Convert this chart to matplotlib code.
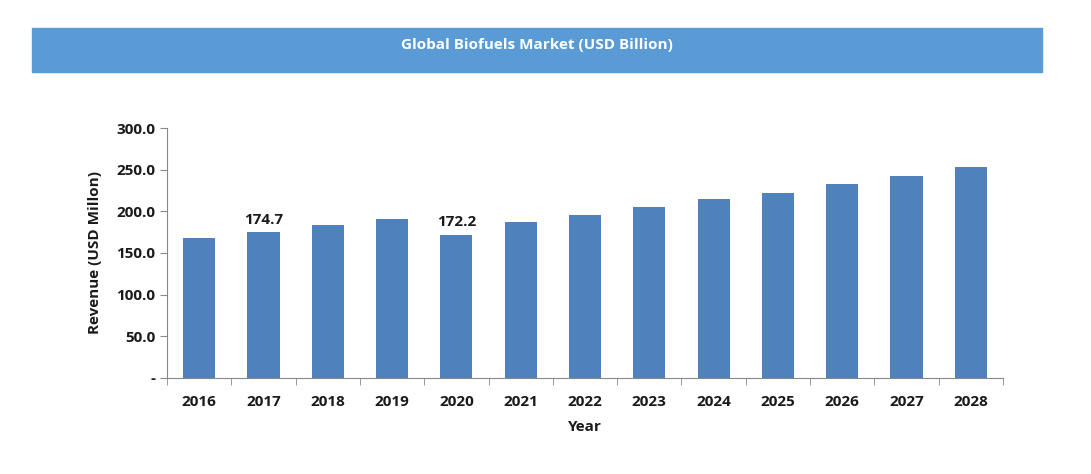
import matplotlib.pyplot as plt
from matplotlib.patches import Rectangle
from matplotlib.ticker import FixedLocator, FixedFormatter

# ----- Chart data ----- #
YEARS = ['2016', '2017', '2018', '2019', '2020', '2021', '2022', '2023',
         '2024', '2025', '2026', '2027', '2028']
REVENUE = [168.0, 174.7, 183.5, 190.5, 172.2, 187.0, 195.5, 205.0,
           214.5, 222.0, 232.5, 242.0, 253.0]
LABELLED = {'2017': '174.7', '2020': '172.2'}
Y_TICKS = [0, 50, 100, 150, 200, 250, 300]
Y_TICK_LABELS = ['-', '50.0', '100.0', '150.0', '200.0', '250.0', '300.0']

BAR_COLOR = '#4F81BD'
BAND_COLOR = '#5B9BD5'
TEXT_COLOR = '#1a1a1a'
plt.rcParams['font.family'] = 'Open Sans'

W, H, DPI = 1091, 474, 100
fig = plt.figure(figsize=(W / DPI, H / DPI), dpi=DPI)

# Title band
fig.patches.append(Rectangle((32 / W, 1 - 72 / H), 1010 / W, 44 / H,
                             transform=fig.transFigure, color=BAND_COLOR, zorder=0))
fig.text(537 / W, 1 - 45 / H, 'Global Biofuels Market (USD Billion)', color='white',
         fontsize=11, fontweight='bold', ha='center', va='center')

ax = fig.add_axes([167 / W, 1 - 378 / H, (1003 - 167) / W, 250 / H])
x = range(len(YEARS))
ax.bar(x, REVENUE, width=0.5, color=BAR_COLOR)
for i, (year, val) in enumerate(zip(YEARS, REVENUE)):
    if year in LABELLED:
        ax.text(i, val + 6, LABELLED[year], ha='center', va='bottom',
                fontsize=11, fontweight='bold', color=TEXT_COLOR)

ax.set_xlim(-0.5, len(YEARS) - 0.5)
ax.set_ylim(0, 300)
ax.yaxis.set_major_locator(FixedLocator(Y_TICKS))
ax.yaxis.set_major_formatter(FixedFormatter(Y_TICK_LABELS))
ax.set_xticks(list(x))
ax.set_xticks([i + 0.5 for i in range(-1, len(YEARS))], minor=True)
ax.set_xticklabels(YEARS)
ax.tick_params(axis='x', which='major', length=0, pad=12)
ax.tick_params(axis='x', which='minor', length=5, color='#888888')
ax.tick_params(axis='y', length=5, color='#888888')
for lbl in ax.get_xticklabels() + ax.get_yticklabels():
    lbl.set_fontsize(11)
    lbl.set_fontweight('bold')
    lbl.set_color(TEXT_COLOR)
for side in ['top', 'right']:
    ax.spines[side].set_visible(False)
for side in ['left', 'bottom']:
    ax.spines[side].set_color('#888888')

ax.set_xlabel('Year', fontsize=11, fontweight='bold', color=TEXT_COLOR, labelpad=8)
ax.set_ylabel('Revenue (USD Millon)', fontsize=11, fontweight='bold', color=TEXT_COLOR, labelpad=10)

fig.savefig('out.png', dpi=DPI)
